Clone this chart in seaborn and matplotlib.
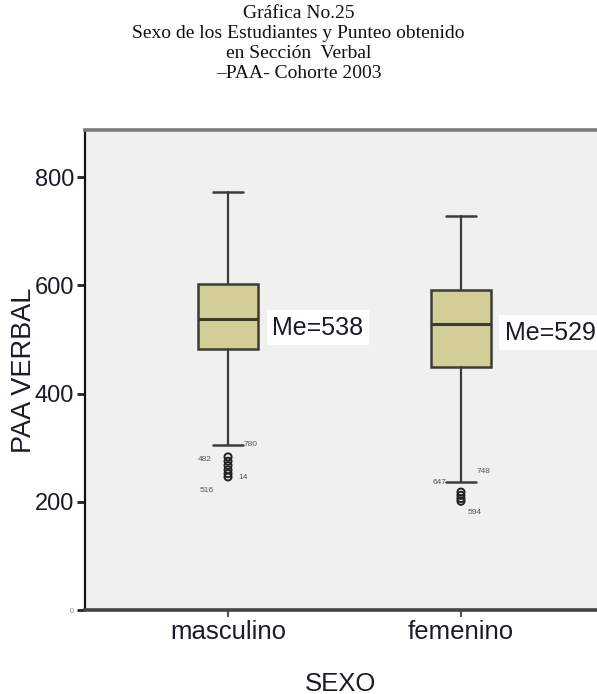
import matplotlib
matplotlib.use("Agg")
import matplotlib.pyplot as plt
import seaborn as sns

# Five-number summaries of the verbal score by sex
categories = ["masculino", "femenino"]
whisker_low = [305, 236]
q1 = [482, 449]
median = [538, 529]
q3 = [602, 592]
whisker_high = [773, 728]

# Outlying scores and their case labels
outlier_group = [0, 0, 0, 0, 0, 0, 1, 1, 1, 1]
outlier_value = [283, 275, 267, 259, 252, 246, 218, 212, 206, 201]
case_labels = ["780", "482", "14", "516", "748", "647", "594"]
case_group = [0, 0, 0, 0, 1, 1, 1]
case_value = [305, 290, 252, 246, 236, 236, 201]
case_offset = [(16, 0), (-30, -6), (10, -4), (-28, -14), (16, 11), (-28, 0), (7, -11)]

yticks = [0, 200, 400, 600, 800]

sns.set_theme(style="white")
plt.rcParams["font.family"] = ["Liberation Sans", "DejaVu Sans"]

fig = plt.figure(figsize=(5.97, 6.94), dpi=100)
ax = fig.add_axes([0.1424, 0.121, 0.8576, 0.6916])
ax.set_facecolor("#F0F0F0")

stats = []
for i, name in enumerate(categories):
    stats.append(dict(label=name, whislo=whisker_low[i], q1=q1[i], med=median[i],
                      q3=q3[i], whishi=whisker_high[i], fliers=[]))

positions = list(range(len(categories)))
ax.bxp(stats, positions=positions, widths=0.255, patch_artist=True, showfliers=False,
       boxprops=dict(facecolor="#D3CE98", edgecolor="#3C3C34", linewidth=1.8),
       medianprops=dict(color="#3A3A30", linewidth=2.2),
       whiskerprops=dict(color="#3C3C3C", linewidth=1.6),
       capprops=dict(color="#3C3C3C", linewidth=1.8),
       capwidths=0.13)

sns.scatterplot(x=outlier_group, y=outlier_value, ax=ax, marker="o", s=26,
                facecolor="none", edgecolor="#222222", linewidth=1.4, legend=False,
                zorder=4)

for lab, g, v, off in zip(case_labels, case_group, case_value, case_offset):
    ax.annotate(lab, xy=(g, v), xytext=off, textcoords="offset pixels",
                fontsize=6, color="#555555", va="center", ha="left")

for i in positions:
    ax.annotate(f"Me={median[i]}", xy=(i, median[i]), xytext=(44, -9),
                textcoords="offset pixels", fontsize=18, color="#1A1A2A",
                va="center", ha="left",
                bbox=dict(boxstyle="square,pad=0.22", facecolor="white",
                          edgecolor="none"))

ax.set_xlim(-0.614, 1.584)
ax.set_ylim(0, 887)
ax.set_xticks(positions)
ax.set_xticklabels(categories, fontsize=18.5, color="#1A1A2A")
ax.set_yticks(yticks)
ax.set_yticklabels([str(t) for t in yticks], fontsize=17, color="#1A1A2A")
ax.get_yticklabels()[0].set_fontsize(5)
ax.get_yticklabels()[0].set_color("#888888")
ax.tick_params(axis="y", direction="out", length=6, width=2, color="#222222", pad=2, left=True)
ax.tick_params(axis="x", direction="out", length=5, width=1.5, color="#555555", pad=2, bottom=True)

ax.set_xlabel("SEXO", fontsize=18.5, color="#1A1A2A", labelpad=20)
ax.set_ylabel("PAA VERBAL", fontsize=19.5, color="#1A1A2A", labelpad=-2)

for side in ["left", "bottom", "top", "right"]:
    ax.spines[side].set_visible(True)
ax.spines["left"].set_color("#111111")
ax.spines["left"].set_linewidth(1.6)
ax.spines["bottom"].set_color("#444444")
ax.spines["bottom"].set_linewidth(2.6)
ax.spines["top"].set_color("#7A7A7A")
ax.spines["top"].set_linewidth(2.6)
ax.spines["right"].set_visible(False)

title_lines = ["Gráfica No.25", "Sexo de los Estudiantes y Punteo obtenido",
               "en Sección  Verbal", "–PAA- Cohorte 2003"]
for k, line in enumerate(title_lines):
    fig.text(0.5, 1 - (13 + 20 * k) / 694, line, ha="center", va="center",
             fontsize=14, family=["Liberation Serif", "DejaVu Serif"], color="#111111")

fig.savefig("out.png", dpi=100, facecolor="white")
